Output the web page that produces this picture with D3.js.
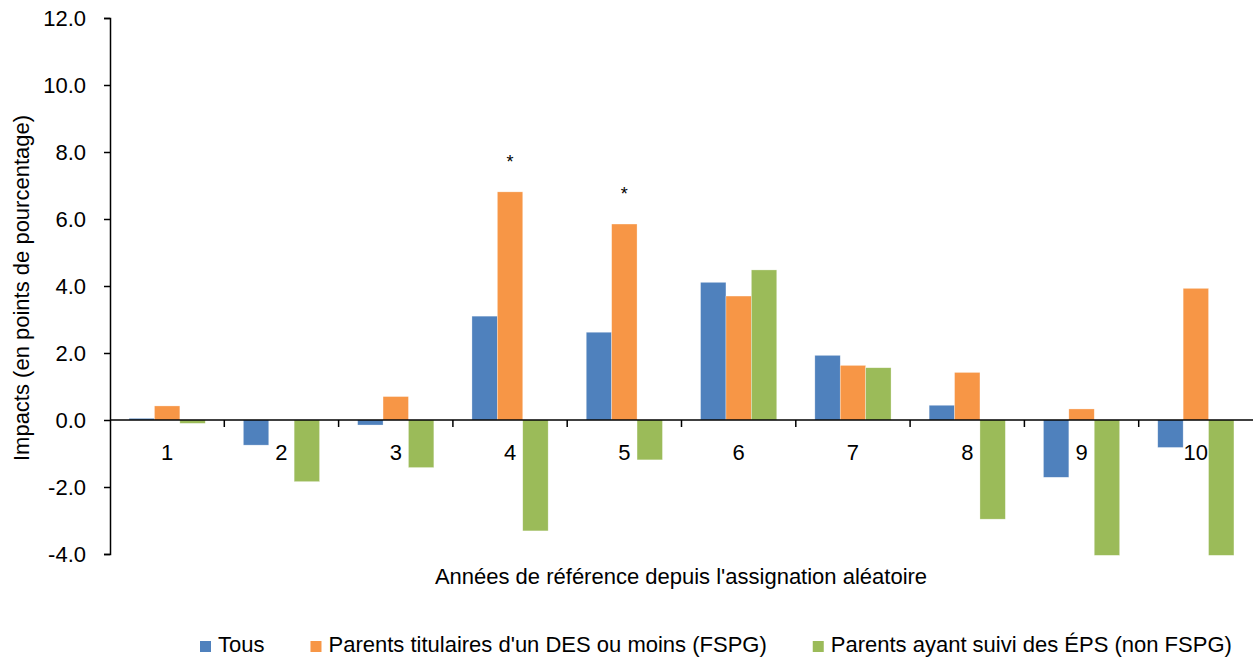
<!DOCTYPE html>
<html>
<head>
<meta charset="utf-8">
<script src="https://cdn.jsdelivr.net/npm/d3@7"></script>
<style>
  body { margin: 0; background: #fff; }
  svg text { font-family: 'Liberation Sans', Arial, sans-serif; fill: #000; }
</style>
</head>
<body>
<div id="container"></div>
<script>
const years = ["1", "2", "3", "4", "5", "6", "7", "8", "9", "10"];
const series = ["Tous", "Parents titulaires d'un DES ou moins (FSPG)", "Parents ayant suivi des ÉPS (non FSPG)"];
const tous = [0.05, -0.75, -0.15, 3.10, 2.62, 4.11, 1.93, 0.44, -1.71, -0.82];
const fspg = [0.42, 0.0, 0.70, 6.81, 5.85, 3.70, 1.63, 1.42, 0.33, 3.93];
const nonFspg = [-0.10, -1.84, -1.42, -3.31, -1.19, 4.48, 1.56, -2.96, -4.04, -4.04];
const significant = ["4", "5"]; // asterisks on the FSPG bar
const yTicks = [-4, -2, 0, 2, 4, 6, 8, 10, 12];
const colors = ["#4F81BD", "#F79646", "#9BBB59"];

const width = 1254, height = 660;
const margin = {top: 18, left: 110, right: 1, bottom: 106};
const fs = 22;

const svg = d3.select("#container").append("svg")
  .attr("width", width)
  .attr("height", height);

const x = d3.scaleBand()
  .domain(years)
  .range([margin.left, width - margin.right]);

const y = d3.scaleLinear()
  .domain([-4, 12])
  .range([height - margin.bottom, margin.top]);

// bars: gap width 150% -> each bar = band / 4.5
const barW = x.bandwidth() / 4.5;
const values = [tous, fspg, nonFspg];

values.forEach((vals, s) => {
  svg.append("g")
    .selectAll("rect")
    .data(vals)
    .enter()
    .append("rect")
    .attr("x", (d, i) => x(years[i]) + barW * 0.75 + s * barW)
    .attr("y", d => y(Math.max(0, d)))
    .attr("width", barW)
    .attr("height", d => Math.abs(y(d) - y(0)))
    .attr("fill", colors[s])
    .attr("stroke", "#ffffff")
    .attr("stroke-opacity", 0.5)
    .attr("stroke-width", 0.6);
});

// asterisks
svg.append("g")
  .selectAll("text")
  .data(significant)
  .enter()
  .append("text")
  .attr("x", d => x(d) + x.bandwidth() / 2)
  .attr("y", d => y(fspg[years.indexOf(d)]) - 24)
  .attr("text-anchor", "middle")
  .attr("font-size", 18)
  .text("*");

// y axis
const yAxis = d3.axisLeft(y)
  .tickValues(yTicks)
  .tickSize(6)
  .tickPadding(18)
  .tickFormat(d => d3.format(".1f")(d).replace("−", "-"));

const yAxisG = svg.append("g")
  .attr("transform", "translate(" + margin.left + ",0)")
  .call(yAxis);
yAxisG.select(".domain").attr("stroke", "#000").attr("stroke-width", 1.5);
yAxisG.selectAll(".tick line").attr("stroke", "#000").attr("stroke-width", 1.5);
yAxisG.selectAll(".tick text").attr("font-size", fs).attr("font-family", null);

// zero line + category ticks
const xAxisG = svg.append("g")
  .attr("transform", "translate(0," + y(0) + ")");
xAxisG.append("line")
  .attr("x1", margin.left)
  .attr("x2", width - margin.right)
  .attr("stroke", "#000")
  .attr("stroke-width", 1.5);
xAxisG.selectAll("line.tk")
  .data(years.slice(1))
  .enter()
  .append("line")
  .attr("class", "tk")
  .attr("x1", d => x(d))
  .attr("x2", d => x(d))
  .attr("y1", 0)
  .attr("y2", 7)
  .attr("stroke", "#000")
  .attr("stroke-width", 1.5);
xAxisG.selectAll("text")
  .data(years)
  .enter()
  .append("text")
  .attr("x", d => x(d) + x.bandwidth() / 2)
  .attr("y", 40)
  .attr("text-anchor", "middle")
  .attr("font-size", fs)
  .text(d => d);

// axis titles
svg.append("text")
  .attr("x", 681)
  .attr("y", 584)
  .attr("text-anchor", "middle")
  .attr("font-size", fs)
  .text("Années de référence depuis l'assignation aléatoire");

svg.append("text")
  .attr("transform", "translate(29," + 288 + ") rotate(-90)")
  .attr("text-anchor", "middle")
  .attr("font-size", fs)
  .text("Impacts (en points de pourcentage)");

// legend
const legend = svg.append("g").attr("class", "legend");
let lx = 218;
series.forEach((name, s) => {
  legend.append("rect")
    .attr("x", lx - 18)
    .attr("y", 641)
    .attr("width", 11)
    .attr("height", 11)
    .attr("fill", colors[s]);
  const t = legend.append("text")
    .attr("x", lx)
    .attr("y", 652)
    .attr("font-size", fs)
    .text(name);
  lx += t.node().getComputedTextLength() + 64;
});
</script>
</body>
</html>
